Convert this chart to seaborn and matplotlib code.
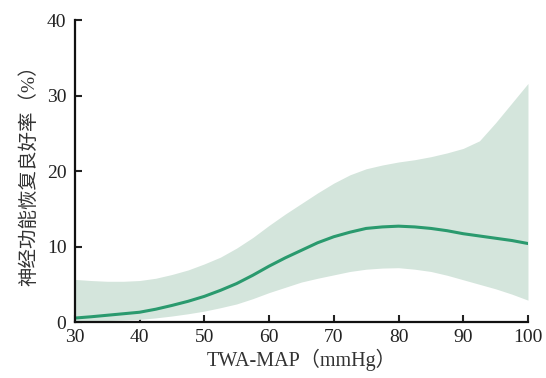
import matplotlib
matplotlib.use("Agg")
import matplotlib.pyplot as plt
import seaborn as sns
import pandas as pd

x_vals = [30, 32.5, 35, 37.5, 40, 42.5, 45, 47.5, 50, 52.5, 55, 57.5, 60, 62.5, 65,
          67.5, 70, 72.5, 75, 77.5, 80, 82.5, 85, 87.5, 90, 92.5, 95, 97.5, 100]
rate = [0.53, 0.7, 0.9, 1.1, 1.3, 1.7, 2.2, 2.75, 3.4, 4.2, 5.1, 6.2, 7.4, 8.5, 9.5,
        10.5, 11.3, 11.9, 12.4, 12.6, 12.7, 12.6, 12.4, 12.1, 11.7, 11.4, 11.1, 10.8, 10.4]
upper = [5.65, 5.5, 5.4, 5.4, 5.5, 5.8, 6.3, 6.9, 7.7, 8.6, 9.8, 11.2, 12.8, 14.3, 15.7,
         17.1, 18.4, 19.5, 20.3, 20.8, 21.2, 21.5, 21.9, 22.4, 23.0, 24.0, 26.4, 29.0, 31.6]
lower = [0.1, 0.15, 0.2, 0.27, 0.35, 0.55, 0.8, 1.1, 1.45, 1.9, 2.4, 3.1, 3.9, 4.6, 5.3,
         5.8, 6.25, 6.7, 7.0, 7.15, 7.2, 7.0, 6.7, 6.2, 5.6, 5.0, 4.4, 3.7, 2.9]
x_ticks = [30, 40, 50, 60, 70, 80, 90, 100]
y_ticks = [0, 10, 20, 30, 40]

df = pd.DataFrame({"x": x_vals, "rate": rate, "upper": upper, "lower": lower})

sns.set_theme(style="ticks")
plt.rcParams['font.family'] = ['Liberation Serif', 'Noto Sans CJK SC']

fig = plt.figure(figsize=(5.46, 3.78), dpi=100)
ax = fig.add_axes([0.137, 0.148, 0.830, 0.799])

ax.fill_between(df["x"], df["lower"], df["upper"], color="#d4e5dc", linewidth=0)
sns.lineplot(data=df, x="x", y="rate", ax=ax, color="#2a9a6e", linewidth=2.2)

ax.set_xlim(30, 100)
ax.set_ylim(0, 40)
ax.set_xticks(x_ticks)
ax.set_yticks(y_ticks)
ax.tick_params(direction="in", length=5, width=1.5, labelsize=14, colors="#222222")
ax.tick_params(axis="x", pad=5)
ax.tick_params(axis="y", pad=6)
for s in ["top", "right"]:
    ax.spines[s].set_visible(False)
for s in ["left", "bottom"]:
    ax.spines[s].set_linewidth(1.6)
    ax.spines[s].set_color("#111111")

ax.set_xlabel("TWA-MAP（mmHg）", fontsize=14.5, color="#333333", labelpad=2)
ax.set_ylabel("神经功能恢复良好率（%）", fontsize=14, color="#333333", labelpad=6)

fig.savefig("out.png", dpi=100)
